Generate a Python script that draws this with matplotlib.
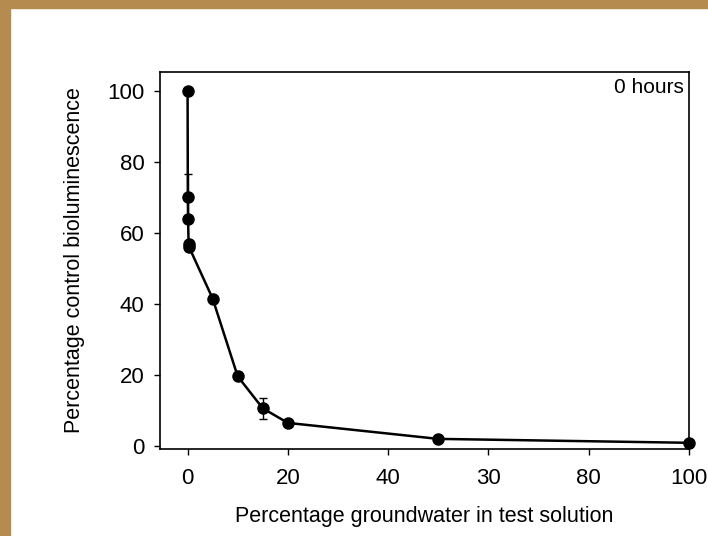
import matplotlib.pyplot as plt
from matplotlib.patches import Rectangle

plt.rcParams['font.family'] = ['Liberation Sans', 'DejaVu Sans']

# percentage groundwater vs percentage control bioluminescence (0 hours)
groundwater = [0, 0.05, 0.1, 0.2, 0.3, 5, 10, 15, 20, 50, 100]
biolum = [100, 70, 64, 57, 56, 41.5, 19.6, 10.6, 6.5, 2.0, 0.9]
err = [0, 6.5, 0, 0, 0, 0.5, 1.0, 3.0, 0.5, 0.5, 0.3]

x_ticks = [0, 20, 40, 60, 80, 100]
x_tick_labels = ['0', '20', '40', '30', '80', '100']
y_ticks = [0, 20, 40, 60, 80, 100]

fig = plt.figure(figsize=(7.08, 5.36), dpi=100)
# tan frame on top and left edge
fig.patches.append(Rectangle((0, 1 - 8 / 536), 1, 8 / 536, transform=fig.transFigure,
                             color='#b58b50', zorder=0))
fig.patches.append(Rectangle((0, 0), 10 / 708, 1, transform=fig.transFigure,
                             color='#b58b50', zorder=0))

ax = fig.add_axes([0.226, 0.1623, 0.973 - 0.226, 0.8657 - 0.1623])
ax.errorbar(groundwater, biolum, yerr=err, color='black', marker='o', markersize=8,
            linewidth=1.8, elinewidth=1, capsize=3, clip_on=False, zorder=3)

ax.set_xlim(-5.5, 100)
ax.set_ylim(-0.85, 105.3)
ax.set_xticks(x_ticks)
ax.set_xticklabels(x_tick_labels)
ax.set_yticks(y_ticks)
ax.tick_params(direction='out', length=4, width=1, labelsize=16)
ax.tick_params(axis='x', pad=10)
ax.tick_params(axis='y', pad=7)
for s in ax.spines.values():
    s.set_linewidth(1.2)

ax.text(0.99, 0.985, '0 hours', transform=ax.transAxes, ha='right', va='top', fontsize=15)
ax.set_xlabel('Percentage groundwater in test solution', fontsize=15.5, labelpad=12)
ax.set_ylabel('Percentage control bioluminescence', fontsize=15.5, labelpad=16)

fig.savefig('out.png', dpi=100)
